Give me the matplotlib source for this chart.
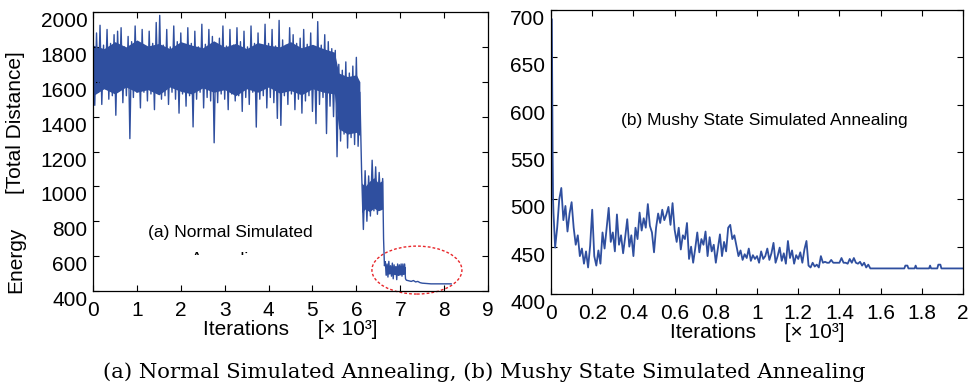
import matplotlib
matplotlib.use("Agg")
import matplotlib.pyplot as plt
import numpy as np
from matplotlib.patches import Ellipse, Rectangle
from matplotlib.ticker import FormatStrFormatter

plt.rcParams['font.family'] = ['Liberation Sans', 'DejaVu Sans']

# ---- (a) normal simulated annealing, energy read off every 40 iterations (0 .. 6600)
a_band = [
    1895, 1465, 1880, 1540, 1924, 1470, 1810, 1560, 1900, 1500,
    1820, 1520, 1870, 1408, 1890, 1550, 1910, 1480, 1800, 1520,
    1860, 1274, 1830, 1510, 1920, 1540, 1810, 1450, 1900, 1540,
    1800, 1490, 1890, 1530, 1820, 1440, 1940, 1540, 1981, 1500,
    1810, 1520, 1900, 1470, 1800, 1540, 1920, 1500, 1830, 1420,
    1880, 1530, 1810, 1460, 1910, 1520, 1820, 1341, 1890, 1500,
    1800, 1540, 1930, 1450, 1815, 1510, 1900, 1490, 1860, 1250,
    1820, 1480, 1850, 1530, 1920, 1500, 1805, 1440, 1900, 1530,
    1810, 1490, 1910, 1520, 1830, 1430, 1890, 1510, 1800, 1470,
    1920, 1540, 1820, 1340, 1880, 1500, 1810, 1520, 1930, 1450,
    1820, 1510, 1900, 1480, 1805, 1390, 1952, 1350, 1840, 1520,
    1810, 1470, 1910, 1530, 1870, 1440, 1820, 1500, 1850, 1420,
    1900, 1490, 1815, 1520, 1880, 1430, 1800, 1360, 1945, 1470,
    1810, 1510, 1870, 1303, 1830, 1460, 1790, 1400, 1780, 1170,
    1700, 1260, 1666, 1300, 1714, 1220, 1650, 1280, 1690, 1240,
    1740, 1230, 1540, 1080, 753, 1090, 800, 1060, 830, 1150,
    860, 1112, 840, 1080, 870, 1045,
]
# after the last drop, every 20 iterations (6620 .. 7120)
a_low = [
    700, 545, 568, 490, 555, 480, 570, 500, 545, 485,
    560, 470, 550, 495, 540, 465, 555, 490, 550, 500,
    555, 485, 555, 495, 555, 470,
]
# converged tail
a_tail_x = [7.14, 7.2, 7.25, 7.3, 7.35, 7.4, 7.45, 7.5, 7.6, 7.7, 7.8, 7.9, 8.0, 8.1, 8.16]
a_tail = [462, 458, 455, 460, 452, 455, 448, 445, 443, 441, 441, 441, 441, 441, 441]

# dense core of the noise band (where the trace fills solid)
core1_x = [0, 0.25, 0.5, 0.75, 1, 1.25, 1.5, 1.75, 2, 2.25, 2.5, 2.75, 3, 3.25,
           3.5, 3.75, 4, 4.25, 4.5, 4.75, 5, 5.25, 5.5, 5.6, 5.8, 6.0, 6.08]
core1_lo = [1520, 1560, 1530, 1570, 1540, 1555, 1525, 1570, 1545, 1530, 1565, 1540, 1555, 1520,
            1560, 1540, 1570, 1535, 1550, 1525, 1560, 1540, 1530, 1330, 1300, 1310, 1290]
core1_hi = [1810, 1790, 1830, 1800, 1840, 1805, 1820, 1790, 1830, 1810, 1795, 1835, 1800, 1820,
            1790, 1825, 1810, 1800, 1830, 1795, 1815, 1790, 1770, 1650, 1630, 1640, 1600]
core2_x = [6.12, 6.2, 6.3, 6.4, 6.5, 6.6]
core2_lo = [850, 870, 855, 875, 860, 870]
core2_hi = [1020, 1000, 1030, 1050, 1020, 1035]
core3_x = [6.66, 6.8, 6.95, 7.12]
core3_lo = [495, 500, 490, 500]
core3_hi = [545, 540, 545, 540]

# ---- (b) mushy state simulated annealing
b_start = [690, 620, 545, 500, 486]          # first iterations, 4 .. 12
b_main = [                                    # every 10 iterations (20 .. 1560)
    449, 470, 500, 512, 478, 493, 466, 485, 497,
    470, 452, 462, 440, 448, 432, 445, 428, 451, 489,
    440, 430, 446, 432, 465, 448, 470, 491, 455, 465,
    445, 484, 452, 462, 443, 460, 479, 450, 462, 440,
    470, 458, 486, 467, 480, 470, 495, 472, 465, 444,
    470, 485, 475, 489, 478, 484, 492, 473, 496, 468,
    455, 470, 447, 462, 458, 475, 437, 450, 433, 448,
    465, 444, 458, 452, 466, 440, 460, 445, 452, 433,
    448, 463, 440, 455, 445, 470, 473, 458, 462, 451,
    440, 446, 436, 442, 438, 448, 435, 441, 437, 440,
    433, 445, 437, 440, 448, 436, 443, 454, 433, 440,
    449, 435, 443, 432, 456, 438, 446, 432, 441, 437,
    444, 433, 447, 456, 430, 428, 433, 429, 431, 428,
    440, 433, 434, 433, 433, 436, 433, 433, 433, 433,
    438, 433, 433, 432, 437, 433, 438, 433, 432, 434,
    430, 433, 428, 431, 427, 427,
]
b_tail_x = [1.57, 1.715, 1.72, 1.73, 1.735, 1.765, 1.77, 1.775,
            1.835, 1.84, 1.845, 1.875, 1.88, 1.89, 1.895, 2.0]
b_tail = [427, 427, 430, 430, 427, 427, 430, 427, 427, 430, 427, 427, 431, 431, 427, 427]

caption = "(a) Normal Simulated Annealing, (b) Mushy State Simulated Annealing"
blue = '#2f4f9f'

fig = plt.figure(figsize=(9.78, 3.88), dpi=100)
ax1 = fig.add_axes([0.0951, 0.25, 0.4039, 0.719])
ax2 = fig.add_axes([0.5634, 0.2423, 0.4213, 0.732])

# left panel
xa = np.concatenate([np.linspace(0, 6.6, len(a_band)),
                     np.linspace(6.62, 7.12, len(a_low)), a_tail_x])
ya = np.concatenate([a_band, a_low, a_tail])
ax1.plot(xa, ya, color=blue, lw=1.0)
for cx, lo, hi in ((core1_x, core1_lo, core1_hi),
                   (core2_x, core2_lo, core2_hi),
                   (core3_x, core3_lo, core3_hi)):
    ax1.fill_between(cx, lo, hi, color=blue, lw=0)
ax1.set_xlim(0, 9)
ax1.set_ylim(400, 2000)
ax1.set_xticks(range(0, 10))
ax1.set_yticks(range(400, 2001, 200))
ax1.add_patch(Ellipse((7.38, 520), 2.05, 275, fill=False, edgecolor='#e8262a',
                      lw=1.0, ls=(0, (2, 1.5)), clip_on=False))
ax1.text(3.12, 738, "(a) Normal Simulated", ha='center', va='center', fontsize=12.5, zorder=4)
ax1.text(3.12, 583, "Annealing", ha='center', va='center', fontsize=12.5, zorder=4)
ax1.add_patch(Rectangle((1.9, 470), 2.5, 136, facecolor='white', edgecolor='none', zorder=5))

# right panel
xb = np.concatenate([np.linspace(0.004, 0.012, len(b_start)),
                     np.linspace(0.02, 1.56, len(b_main)), b_tail_x])
yb = np.concatenate([b_start, b_main, b_tail])
ax2.plot(xb, yb, color=blue, lw=1.3)
ax2.set_xlim(0, 2)
ax2.set_ylim(400, 700)
ax2.set_xticks(np.arange(0, 2.01, 0.2))
ax2.set_yticks(range(400, 701, 50))
ax2.xaxis.set_major_formatter(FormatStrFormatter('%g'))
ax2.text(1.034, 583, "(b) Mushy State Simulated Annealing", ha='center', va='center', fontsize=12.5)

for ax in (ax1, ax2):
    ax.tick_params(direction='in', top=True, right=True, length=4, width=0.8, labelsize=15)
    ax.tick_params(axis='x', pad=7)
    ax.tick_params(axis='y', pad=4)
    for s in ax.spines.values():
        s.set_linewidth(0.9)
    ax.set_xlabel("Iterations     [\u00d7 10\u00b3]", fontsize=15, labelpad=0)
    for lab in ax.get_yticklabels():
        lab.set_va('top')

fig.text(16 / 978, 1 - 260 / 388, "Energy", rotation=90, ha='center', va='center', fontsize=15)
fig.text(16 / 978, 1 - 123 / 388, "[Total Distance]", rotation=90, ha='center', va='center', fontsize=15)
fig.text(0.495, 1 - 372 / 388, caption, ha='center', va='center', fontsize=15.2, family='DejaVu Serif')

fig.savefig("out.png", dpi=100)
